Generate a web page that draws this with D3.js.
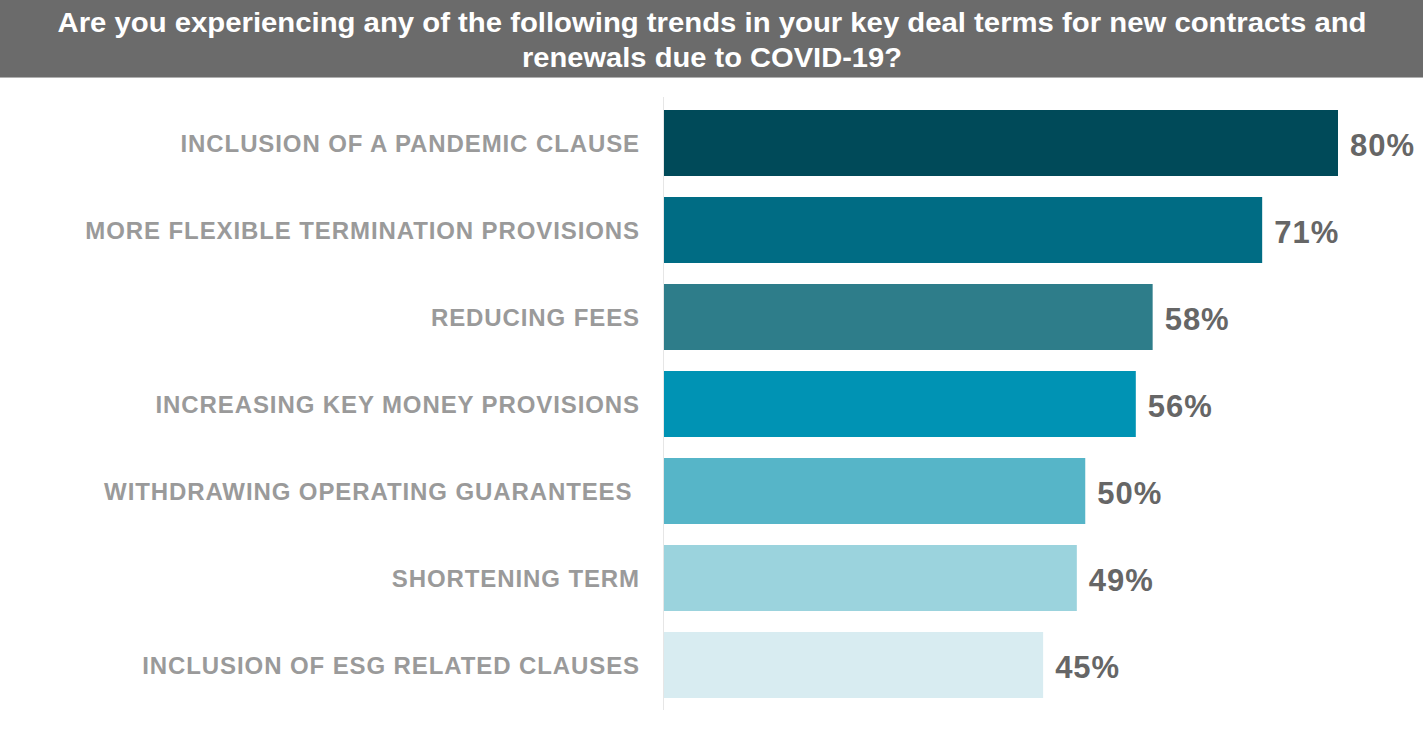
<!DOCTYPE html>
<html>
<head>
<meta charset="utf-8">
<script src="https://cdn.jsdelivr.net/npm/d3@7"></script>
<style>
  html, body { margin: 0; padding: 0; background: #ffffff; }
  svg { display: block; }
</style>
</head>
<body>
<svg id="chart" width="1423" height="737"></svg>
<script>
const titleLines = [
  "Are you experiencing any of the following trends in your key deal terms for new contracts and",
  "renewals due to COVID-19?"
];
const categories = [
  "INCLUSION OF A PANDEMIC CLAUSE",
  "MORE FLEXIBLE TERMINATION PROVISIONS",
  "REDUCING FEES",
  "INCREASING KEY MONEY PROVISIONS",
  "WITHDRAWING OPERATING GUARANTEES ",
  "SHORTENING TERM",
  "INCLUSION OF ESG RELATED CLAUSES"
];
const values = [80, 71, 58, 56, 50, 49, 45];
const barColors = ["#004a59", "#006c84", "#2e7d8a", "#0093b4", "#56b5c8", "#9bd3dd", "#d8ecf1"];

const svg = d3.select("#chart");
const W = 1423, H = 737;

// Title banner
svg.append("rect").attr("x", 0).attr("y", 0).attr("width", W).attr("height", 77).attr("fill", "#6b6b6b");
svg.append("rect").attr("x", 0).attr("y", 77).attr("width", W).attr("height", 1).attr("fill", "#b0b0b0");
const titleWidths = [1309, 380];
const titleBase = [32, 67];
titleLines.forEach((t, i) => {
  svg.append("text")
    .attr("x", W / 2 + 0.5)
    .attr("y", titleBase[i])
    .attr("text-anchor", "middle")
    .attr("fill", "#ffffff")
    .attr("font-family", "'Liberation Sans', Arial, sans-serif")
    .attr("font-weight", "bold")
    .attr("font-size", 28)
    .attr("textLength", titleWidths[i])
    .attr("lengthAdjust", "spacingAndGlyphs")
    .text(t);
});

// Scales
const x0 = 664;
const x = d3.scaleLinear().domain([0, 80]).range([x0, 1338]);
const y = d3.scaleBand().domain(categories).range([99.5, 708.5]).paddingInner(0.2414).paddingOuter(0.1207);

// Axis line
const yAxis = d3.axisLeft(y).tickSize(0).tickFormat("");
const gAxis = svg.append("g").attr("transform", `translate(${x0 - 0.5},0)`).call(yAxis);
gAxis.select(".domain").attr("stroke", "#e6e6e6").attr("stroke-width", 1)
  .attr("d", `M0,97V710`);

// Bars
svg.append("g").selectAll("rect")
  .data(categories)
  .join("rect")
  .attr("x", x0)
  .attr("y", d => y(d))
  .attr("width", (d, i) => x(values[i]) - x0)
  .attr("height", y.bandwidth())
  .attr("fill", (d, i) => barColors[i]);

// Category labels
svg.append("g").selectAll("text")
  .data(categories)
  .join("text")
  .attr("x", 640)
  .attr("y", d => y(d) + y.bandwidth() / 2)
  .attr("dy", "0.36em")
  .attr("text-anchor", "end")
  .attr("fill", "#9a9a9a")
  .attr("font-family", "'Liberation Sans', Arial, sans-serif")
  .attr("font-weight", "bold")
  .attr("font-size", 24)
  .attr("letter-spacing", "0.9px")
  .style("white-space", "pre")
  .text(d => d);

// Value labels
svg.append("g").selectAll("text")
  .data(categories)
  .join("text")
  .attr("x", (d, i) => x(values[i]) + 12)
  .attr("y", d => y(d) + y.bandwidth() / 2 + 2)
  .attr("dy", "0.36em")
  .attr("fill", "#666666")
  .attr("font-family", "'Liberation Sans', Arial, sans-serif")
  .attr("font-weight", "bold")
  .attr("font-size", 31)
  .attr("letter-spacing", "1px")
  .text((d, i) => values[i] + "%");
</script>
</body>
</html>
